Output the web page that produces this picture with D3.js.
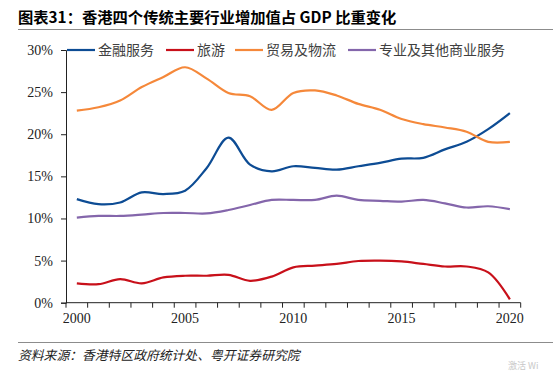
<!DOCTYPE html>
<html><head><meta charset="utf-8">
<script src="https://cdn.jsdelivr.net/npm/d3@7/dist/d3.min.js"></script>
<style>
html,body{margin:0;padding:0;background:#fff;}
svg{display:block;}
</style></head>
<body>
<svg id="chart" width="553" height="371"></svg>
<script>
const years = d3.range(2000, 2021);
const finance = [12.3,11.7,11.9,13.1,12.9,13.3,16.0,19.6,16.4,15.6,16.2,16.0,15.8,16.2,16.6,17.1,17.2,18.2,19.1,20.6,22.5];
const tourism = [2.3,2.2,2.8,2.3,3.0,3.2,3.2,3.3,2.6,3.1,4.2,4.4,4.6,4.95,5.0,4.9,4.6,4.3,4.3,3.6,0.4];
const trade = [22.8,23.2,24.0,25.6,26.8,27.95,26.6,24.9,24.5,22.9,24.9,25.2,24.6,23.6,22.9,21.8,21.2,20.8,20.3,19.1,19.1];
const professional = [10.1,10.3,10.3,10.45,10.65,10.65,10.6,11.0,11.6,12.2,12.2,12.2,12.7,12.2,12.1,12.0,12.2,11.8,11.3,11.45,11.1];
const seriesNames = ["金融服务","旅游","贸易及物流","专业及其他商业服务"];
const seriesColors = ["#0d4c94","#c8101a","#f5883a","#8466ab"];
const yTicks = [0,5,10,15,20,25,30];
const xLabelYears = [2000,2005,2010,2015,2020];
const titleText = "图表31：香港四个传统主要行业增加值占 GDP 比重变化";
const sourceText = "资料来源：香港特区政府统计处、粤开证券研究院";

const svg = d3.select("#chart");
const mLeft = 66, mRight = 520.7, mTop = 50, mBottom = 302.7;

const x = d3.scaleBand().domain(years).range([mLeft, mRight]);
const y = d3.scaleLinear().domain([0,30]).range([mBottom, mTop]);

// title
svg.append("text").attr("x",18).attr("y",23)
  .attr("font-family","'Noto Sans CJK SC', sans-serif").attr("font-weight","bold")
  .attr("font-size",15.3).attr("fill","#000").text(titleText);
svg.append("line").attr("x1",18).attr("x2",553).attr("y1",29.5).attr("y2",29.5)
  .attr("stroke","#8c8c8c").attr("stroke-width",1.2);

// y axis
const yAxis = svg.append("g").attr("transform",`translate(${mLeft},0)`)
  .call(d3.axisLeft(y).tickValues(yTicks).tickSize(5).tickPadding(8).tickFormat(d=>d+"%"));
yAxis.select(".domain").attr("stroke","#222");
yAxis.selectAll(".tick line").attr("stroke","#222");
yAxis.selectAll("text").attr("font-family","'Liberation Serif', serif").attr("font-size",14).attr("fill","#222");

// x axis
const xAxis = svg.append("g").attr("transform",`translate(0,${mBottom})`)
  .call(d3.axisBottom(x).tickValues(xLabelYears).tickSize(0).tickPadding(10).tickFormat(d=>d));
xAxis.select(".domain").attr("stroke","#222").attr("d",`M${mLeft},0H${mRight}`);
xAxis.selectAll("text").attr("font-family","'Liberation Serif', serif").attr("font-size",14).attr("fill","#222");
// boundary ticks
const bounds = years.map(d=>x(d)).concat([x(2020)+x.bandwidth()]);
svg.append("g").selectAll("line").data(bounds).join("line")
  .attr("x1",d=>d).attr("x2",d=>d).attr("y1",mBottom).attr("y2",mBottom+5)
  .attr("stroke","#222");

// lines
const allSeries = [finance, tourism, trade, professional];
const line = d3.line().x((d,i)=>x(years[i])+x.bandwidth()/2).y(d=>y(d)).curve(d3.curveCatmullRom.alpha(0.5));
svg.append("g").selectAll("path").data(allSeries).join("path")
  .attr("d",d=>line(d)).attr("fill","none")
  .attr("stroke",(d,i)=>seriesColors[i]).attr("stroke-width",2.2).attr("stroke-linejoin","round");

// legend
const legendX = [67,166,235,348];
const lg = svg.append("g");
seriesNames.forEach((n,i)=>{
  lg.append("line").attr("x1",legendX[i]).attr("x2",legendX[i]+28).attr("y1",50).attr("y2",50)
    .attr("stroke",seriesColors[i]).attr("stroke-width",2.2);
  lg.append("text").attr("x",legendX[i]+31).attr("y",55)
    .attr("font-family","'Noto Sans CJK SC', sans-serif").attr("font-size",14).attr("fill","#404040").text(n);
});

// footer
svg.append("line").attr("x1",18).attr("x2",553).attr("y1",342.5).attr("y2",342.5)
  .attr("stroke","#8c8c8c").attr("stroke-width",1.2);
svg.append("text").attr("x",18).attr("y",360)
  .attr("font-family","'Noto Sans CJK SC', sans-serif").attr("font-style","italic")
  .attr("font-size",12.8).attr("fill","#222").text(sourceText);
svg.append("text").attr("x",508).attr("y",369)
  .attr("font-family","'Noto Sans CJK SC', sans-serif")
  .attr("font-size",9).attr("fill","#c8c8c8").text("激活 Wi");
</script>
</body></html>
